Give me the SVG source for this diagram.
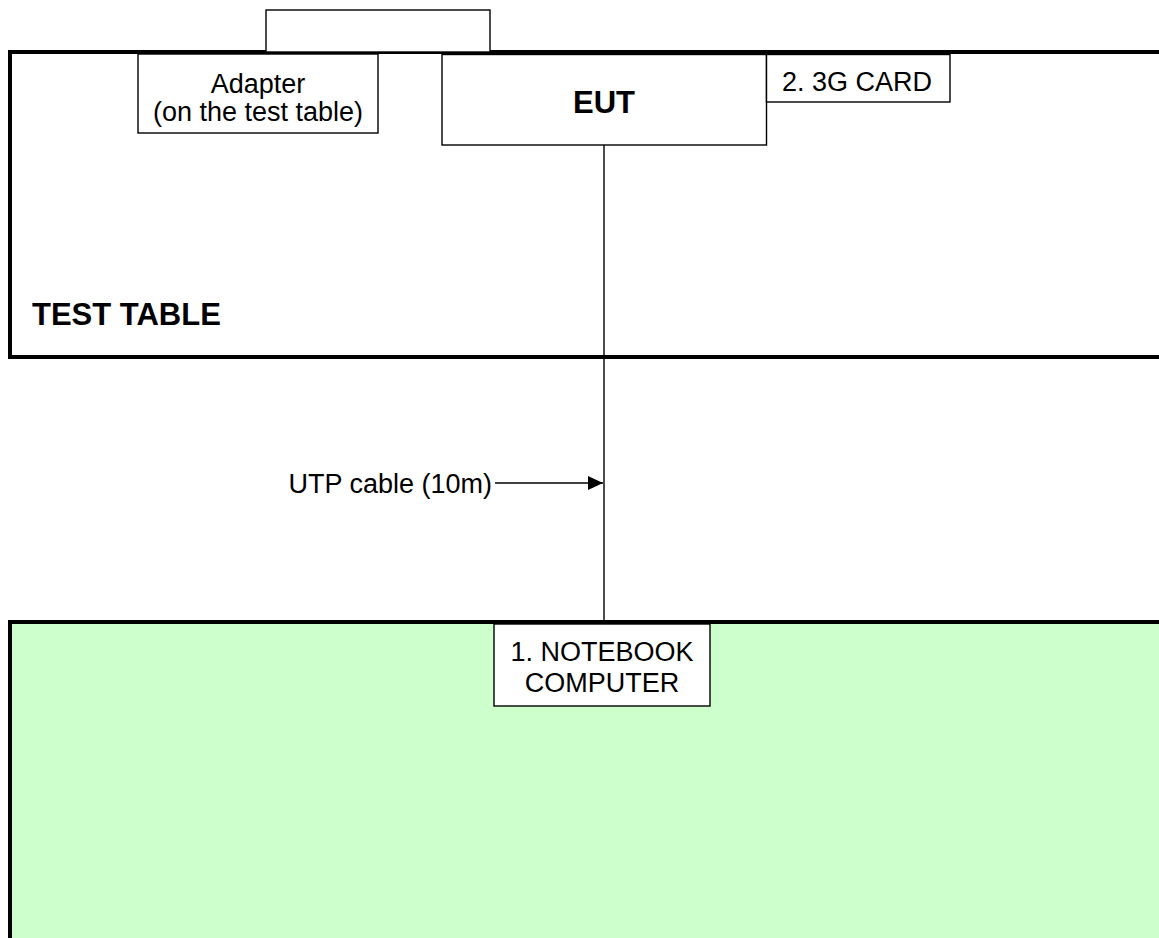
<svg xmlns="http://www.w3.org/2000/svg" width="1159" height="938" viewBox="0 0 1159 938">
  <style>
    .thick { stroke: #000; stroke-width: 4; }
    .box { fill: #fff; stroke: #000; stroke-width: 1.4; }
    .t { font-family: "Liberation Sans", Arial, sans-serif; font-size: 27px; fill: #000; }
    .b { font-family: "Liberation Sans", Arial, sans-serif; font-size: 31px; font-weight: bold; fill: #000; }
    .wire { stroke: #000; stroke-width: 1.4; fill: none; }
  </style>
  <defs>
    <marker id="arrow" markerUnits="userSpaceOnUse" markerWidth="15" markerHeight="14" refX="15" refY="7" orient="auto">
      <path d="M0,0 L15,7 L0,14 Z" fill="#000"/>
    </marker>
  </defs>
  <rect width="1159" height="938" fill="#fff"/>

  <g id="test-table">
    <rect x="10" y="52" width="1160" height="305" fill="#fff" class="thick"/>
    <text x="32" y="325" class="b">TEST TABLE</text>
  </g>

  <g id="top-box">
    <rect x="266" y="10" width="224" height="42" class="box"/>
  </g>

  <g id="adapter">
    <rect x="138" y="54" width="240" height="79" class="box"/>
    <text x="258" y="93" text-anchor="middle" class="t">Adapter</text>
    <text x="258" y="121" text-anchor="middle" class="t">(on the test table)</text>
  </g>

  <g id="eut">
    <rect x="442" y="54.5" width="324.5" height="90.5" class="box"/>
    <text x="604" y="112.5" text-anchor="middle" class="b">EUT</text>
  </g>

  <g id="card">
    <rect x="766.5" y="54.5" width="183.5" height="47.5" class="box"/>
    <text x="857" y="91" text-anchor="middle" class="t">2. 3G CARD</text>
  </g>

  <g id="notebook-area">
    <rect x="10" y="622" width="1160" height="330" fill="#ccffcc" class="thick"/>
  </g>

  <g id="connectors">
    <line x1="604" y1="145" x2="604" y2="622" class="wire"/>
    <line x1="495" y1="483" x2="603" y2="483" class="wire" marker-end="url(#arrow)"/>
  </g>

  <g id="notebook">
    <rect x="494" y="624" width="216" height="82" class="box"/>
    <text x="602" y="661" text-anchor="middle" class="t">1. NOTEBOOK</text>
    <text x="602" y="692" text-anchor="middle" class="t">COMPUTER</text>
  </g>

  <g id="utp-label">
    <text x="492" y="493" text-anchor="end" class="t">UTP cable (10m)</text>
  </g>
</svg>
